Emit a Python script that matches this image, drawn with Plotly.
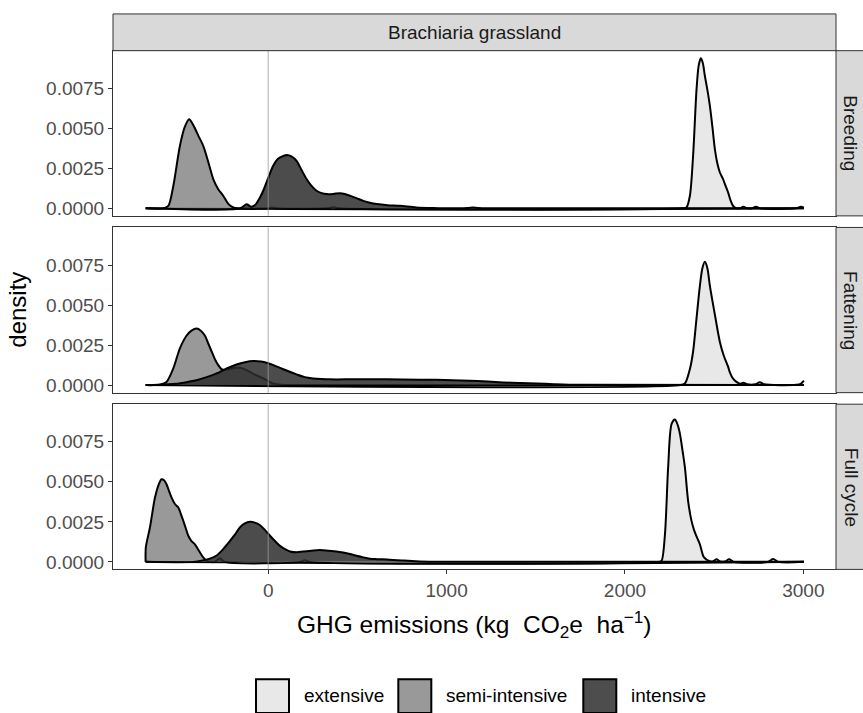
import plotly.graph_objects as go

# ---------------- data ----------------
categories = ["extensive", "semi-intensive", "intensive"]
facets = ["Breeding", "Fattening", "Full cycle"]
column_label = "Brachiaria grassland"

x_ticks = [0, 1000, 2000, 3000]
y_ticks = [0, 0.0025, 0.005, 0.0075]
y_ticktext = ["0.0000", "0.0025", "0.0050", "0.0075"]

# Breeding
breeding_ext_x = [-687, 2320, 2345, 2364, 2382, 2401, 2413, 2425, 2436, 2448, 2462, 2476, 2490, 2504, 2518,
                  2532, 2550, 2564, 2578, 2592, 2606, 2620, 2645, 2663, 2686, 2710, 2734, 2758, 2960, 2986, 3003]
breeding_ext_d = [0, 0, 0.00006, 0.00079, 0.0033, 0.0074, 0.0089, 0.00937, 0.0091, 0.00827, 0.0074, 0.0064,
                  0.0051, 0.0037, 0.0028, 0.00224, 0.00183, 0.0014, 0.001, 0.0005, 0.00016, 0.00003, 0,
                  0.0001, 0, 0, 0.0001, 0, 0, 0.0001, 0.00005]
breeding_semi_x = [-687, -590, -560, -532, -495, -467, -443, -420, -390, -364, -336, -308, -280, -252, -225,
                   -196, -170, 0, 20, 45, 330, 364, 400, 3003]
breeding_semi_d = [0, 0, 0.00016, 0.0014, 0.0039, 0.0051, 0.00557, 0.0052, 0.0045, 0.0039, 0.0029, 0.00183,
                   0.0012, 0.00079, 0.0003, 0.00006, 0, 0, 0.00006, 0, 0, 0.00007, 0, 0]
breeding_int_x = [-687, -160, -121, -95, -70, -50, -28, 0, 28, 55, 80, 106, 130, 159, 187, 215, 243, 271, 300,
                  327, 365, 402, 430, 458, 495, 533, 570, 608, 670, 738, 830, 923, 1050, 1120, 1148, 1176,
                  1250, 3003]
breeding_int_d = [0, 0, 0.00025, 0.0001, 0.00025, 0.0006, 0.0011, 0.0019, 0.00266, 0.0031, 0.00325, 0.00334,
                  0.00325, 0.00297, 0.0024, 0.00183, 0.0014, 0.0011, 0.00095, 0.00089, 0.0009, 0.00095,
                  0.0009, 0.00079, 0.00064, 0.00047, 0.00035, 0.00027, 0.0002, 0.00016, 0.00006, 0.00002,
                  0, 0.00002, 0.00006, 0.00002, 0, 0]

# Fattening
fattening_ext_x = [-687, 2310, 2336, 2364, 2382, 2401, 2420, 2434, 2448, 2462, 2476, 2504, 2532, 2555, 2578,
                   2588, 2606, 2625, 2645, 2663, 2685, 2730, 2756, 2780, 2960, 2985, 3003]
fattening_ext_d = [0, 0, 0.0001, 0.001, 0.0021, 0.00416, 0.0062, 0.0073, 0.0077, 0.0073, 0.0062, 0.0044,
                   0.0027, 0.0018, 0.00115, 0.0008, 0.0004, 0.0002, 0.00008, 0.00015, 0.00005, 0.00005,
                   0.00018, 0.00005, 0.00002, 0.00008, 0.00028]
fattening_semi_x = [-687, -640, -607, -570, -532, -495, -457, -430, -401, -378, -355, -336, -317, -298, -280,
                    -262, -243, -215, -190, -159, -130, -103, -65, -28, 0, 28, 75, 120, 3003]
fattening_semi_d = [0, 0, 0.00003, 0.0002, 0.00104, 0.0023, 0.0031, 0.0034, 0.00353, 0.0034, 0.0031, 0.0026,
                    0.0021, 0.0016, 0.00125, 0.001, 0.00094, 0.001, 0.00108, 0.00108, 0.00098, 0.00083,
                    0.0006, 0.00042, 0.00025, 0.0001, 0.00002, 0, 0]
fattening_int_x = [-687, -620, -560, -500, -450, -401, -345, -289, -233, -177, -130, -84, -40, -9, 30, 66, 110,
                   159, 205, 252, 300, 346, 450, 570, 750, 944, 1131, 1230, 1317, 1410, 1504, 1600, 1750, 3003]
fattening_int_d = [0, 0.00002, 0.00005, 0.0001, 0.0002, 0.00031, 0.0005, 0.00073, 0.00104, 0.00129, 0.00143,
                   0.0015, 0.00147, 0.0014, 0.00125, 0.00108, 0.00088, 0.00067, 0.0005, 0.00042, 0.00038,
                   0.00036, 0.00036, 0.00037, 0.00035, 0.00033, 0.00027, 0.00022, 0.00017, 0.00013, 0.0001,
                   0.00006, 0.00002, 0]

# Full cycle
full_ext_x = [-687, 2190, 2205, 2224, 2242, 2261, 2280, 2294, 2308, 2322, 2336, 2354, 2373, 2387, 2401, 2420,
              2442, 2476, 2495, 2513, 2535, 2560, 2584, 2610, 2800, 2831, 2860, 3003]
full_ext_d = [0, 0, 0.00006, 0.0017, 0.0059, 0.0086, 0.0089, 0.0086, 0.008, 0.007, 0.0059, 0.0038, 0.00256,
              0.002, 0.0016, 0.0011, 0.0003, 0.00004, 0.00004, 0.00016, 0.00002, 0.00002, 0.00016, 0, 0,
              0.00018, 0, 0]
full_semi_x = [-687, -686, -663, -635, -615, -598, -584, -570, -555, -541, -522, -504, -490, -476, -462, -448,
               -430, -411, -397, -383, -369, -355, -336, -300, -271, -245, 180, 206, 232, 3003]
full_semi_d = [0, 0.0009, 0.00215, 0.004, 0.0048, 0.00516, 0.0051, 0.00485, 0.0044, 0.004, 0.0036, 0.0034,
               0.003, 0.00257, 0.0021, 0.00163, 0.0013, 0.0011, 0.00085, 0.0006, 0.00035, 0.00017, 0.00003,
               0, 0.00022, 0, 0, 0.0001, 0, 0]
full_int_x = [-687, -420, -364, -327, -289, -252, -215, -187, -159, -131, -103, -75, -47, -19, 10, 38, 66, 94,
              122, 160, 196, 243, 290, 336, 383, 420, 458, 495, 533, 570, 608, 682, 760, 850, 950, 3003]
full_int_d = [0, 0, 0.0001, 0.0002, 0.0004, 0.0008, 0.0013, 0.0017, 0.00215, 0.0024, 0.0025, 0.00245, 0.0023,
              0.002, 0.00163, 0.0013, 0.001, 0.0008, 0.00065, 0.0006, 0.00065, 0.0007, 0.00074, 0.0007,
              0.00065, 0.00058, 0.00049, 0.00038, 0.00028, 0.0002, 0.00017, 0.00014, 0.00008, 0.00003, 0, 0]

series = {
    "Breeding": [(breeding_ext_x, breeding_ext_d), (breeding_semi_x, breeding_semi_d), (breeding_int_x, breeding_int_d)],
    "Fattening": [(fattening_ext_x, fattening_ext_d), (fattening_semi_x, fattening_semi_d), (fattening_int_x, fattening_int_d)],
    "Full cycle": [(full_ext_x, full_ext_d), (full_semi_x, full_semi_d), (full_int_x, full_int_d)],
}

# ---------------- style ----------------
W, H = 863, 713
FONT = "Liberation Sans, Arial, Helvetica, sans-serif"
fills = ["rgba(230,230,230,0.9)", "rgba(135,135,135,0.85)", "rgba(45,45,45,0.85)"]
legend_fills = ["#E8E8E8", "#999999", "#4D4D4D"]

def fx(p):
    return p / W

def fy(p):
    return 1 - p / H

panel_left, panel_right = 113, 836
panels_px = [(50.9, 216.8), (228.4, 394.3), (405.9, 571.8)]
xr = [-870, 3183]
yr = [-0.00047, 0.00985]

fig = go.Figure()
for i, facet in enumerate(facets):
    sfx = "" if i == 0 else str(i + 1)
    for j, (xs, ds) in enumerate(series[facet]):
        fig.add_trace(go.Scatter(
            x=xs, y=ds, mode="lines", fill="tozeroy", fillcolor=fills[j],
            line=dict(color="black", width=2, shape="spline", smoothing=0.8),
            name=categories[j], showlegend=False, hoverinfo="skip",
            xaxis="x" + sfx, yaxis="y" + sfx))

layout = dict(
    width=W, height=H, margin=dict(l=0, r=0, t=0, b=0),
    paper_bgcolor="white", plot_bgcolor="white",
    font=dict(family=FONT, color="#1A1A1A"),
    showlegend=False,
)
shapes = []
annotations = []
for i, facet in enumerate(facets):
    sfx = "" if i == 0 else str(i + 1)
    top, bot = panels_px[i]
    bottom_panel = (i == len(facets) - 1)
    layout["xaxis" + sfx] = dict(
        domain=[fx(panel_left), fx(panel_right)], range=xr, anchor="y" + sfx,
        showgrid=False, zeroline=False, showline=True, mirror=True, linecolor="#333333", linewidth=1,
        tickvals=x_ticks, showticklabels=bottom_panel, ticks="outside" if bottom_panel else "",
        ticklen=4, tickcolor="#333333", tickwidth=1,
        tickfont=dict(size=19, color="#4D4D4D", family=FONT),
    )
    layout["yaxis" + sfx] = dict(
        domain=[fy(bot), fy(top)], range=yr, anchor="x" + sfx,
        showgrid=False, zeroline=False, showline=True, mirror=True, linecolor="#333333", linewidth=1,
        tickvals=y_ticks, ticktext=y_ticktext, ticks="outside", ticklen=4, tickcolor="#333333", tickwidth=1,
        tickfont=dict(size=19, color="#4D4D4D", family=FONT),
    )
    # vertical reference line at zero
    shapes.append(dict(type="line", xref="x" + sfx, yref="y" + sfx + " domain", x0=0, x1=0, y0=0, y1=1,
                       line=dict(color="#9A9A9A", width=0.8), layer="above"))
    # right strip
    shapes.append(dict(type="rect", xref="paper", yref="paper", x0=fx(panel_right), x1=fx(875),
                       y0=fy(bot), y1=fy(top), fillcolor="#D9D9D9", line=dict(color="#333333", width=1)))
    annotations.append(dict(xref="paper", yref="paper", x=fx(851), y=fy((top + bot) / 2), text=facet,
                            showarrow=False, textangle=90, xanchor="center", yanchor="middle",
                            font=dict(size=19, color="#1A1A1A", family=FONT)))

# top strip
shapes.append(dict(type="rect", xref="paper", yref="paper", x0=fx(panel_left), x1=fx(panel_right),
                   y0=fy(50.9), y1=fy(14), fillcolor="#D9D9D9", line=dict(color="#333333", width=1)))
annotations.append(dict(xref="paper", yref="paper", x=fx((panel_left + panel_right) / 2), y=fy(32.5),
                        text=column_label, showarrow=False, xanchor="center", yanchor="middle",
                        font=dict(size=19, color="#1A1A1A", family=FONT)))

# axis titles
annotations.append(dict(xref="paper", yref="paper", x=fx(474.5), y=fy(627),
                        text="GHG emissions (kg\u00a0\u00a0CO<sub>2</sub>e\u00a0\u00a0ha<sup>\u22121</sup>)",
                        showarrow=False, xanchor="center", yanchor="middle",
                        font=dict(size=24.5, color="black", family=FONT)))
annotations.append(dict(xref="paper", yref="paper", x=fx(18), y=fy(311), text="density", textangle=-90,
                        showarrow=False, xanchor="center", yanchor="middle",
                        font=dict(size=24, color="black", family=FONT)))

# legend (drawn manually to get the large ggplot-style keys)
key_left = [256, 398.3, 583.3]
for j, cat in enumerate(categories):
    shapes.append(dict(type="rect", xref="paper", yref="paper", x0=fx(key_left[j]), x1=fx(key_left[j] + 33),
                       y0=fy(716), y1=fy(682), fillcolor=legend_fills[j], line=dict(color="black", width=2)))
    annotations.append(dict(xref="paper", yref="paper", x=fx(key_left[j] + 45.5), y=fy(698), text=cat,
                            showarrow=False, xanchor="left", yanchor="middle",
                            font=dict(size=19, color="black", family=FONT)))

layout["shapes"] = shapes
layout["annotations"] = annotations
fig.update_layout(**layout)
fig.write_html("out.html")
